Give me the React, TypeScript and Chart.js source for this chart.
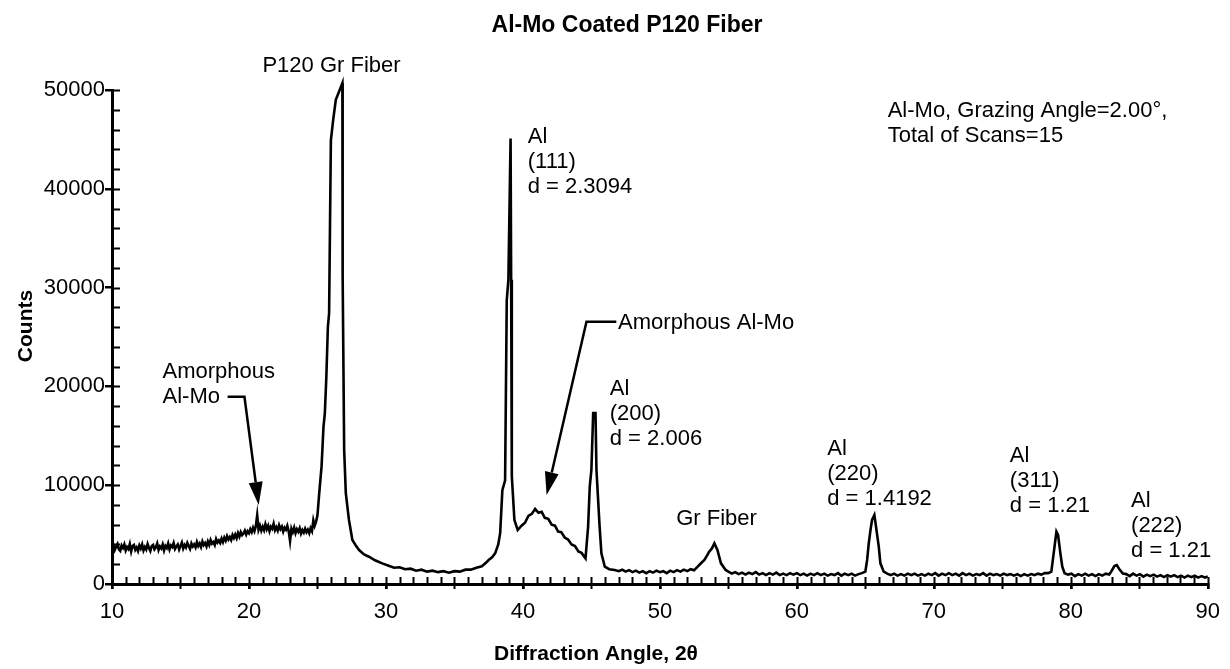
import { useEffect, useRef } from 'react';
import { Chart, registerables } from 'chart.js';

Chart.register(...registerables);

const FONT = '"Liberation Sans", Arial, Helvetica, sans-serif';

// ---------- Data (2θ in degrees, counts) ----------
const lowAngles = [
  10.0, 10.1, 10.2, 10.3, 10.4, 10.5, 10.6, 10.7, 10.8, 10.9,
  11.0, 11.1, 11.2, 11.3, 11.4, 11.5, 11.6, 11.7, 11.8, 11.9,
  12.0, 12.1, 12.2, 12.3, 12.4, 12.5, 12.6, 12.7, 12.8, 12.9,
  13.0, 13.1, 13.2, 13.3, 13.4, 13.5, 13.6, 13.7, 13.8, 13.9,
  14.0, 14.1, 14.2, 14.3, 14.4, 14.5, 14.6, 14.7, 14.8, 14.9,
  15.0, 15.1, 15.2, 15.3, 15.4, 15.5, 15.6, 15.7, 15.8, 15.9,
  16.0, 16.1, 16.2, 16.3, 16.4, 16.5, 16.6, 16.7, 16.8, 16.9,
  17.0, 17.1, 17.2, 17.3, 17.4, 17.5, 17.6, 17.7, 17.8, 17.9,
  18.0, 18.1, 18.2, 18.3, 18.4, 18.5, 18.6, 18.7, 18.8, 18.9,
  19.0, 19.1, 19.2, 19.3, 19.4, 19.5, 19.6, 19.7, 19.8, 19.9,
  20.0, 20.1, 20.2, 20.3, 20.4, 20.5, 20.6, 20.7, 20.8, 20.9,
  21.0, 21.1, 21.2, 21.3, 21.4, 21.5, 21.6, 21.7, 21.8, 21.9,
  22.0, 22.1, 22.2, 22.3, 22.4, 22.5, 22.6, 22.7, 22.8, 22.9,
  23.0, 23.1, 23.2, 23.3, 23.4, 23.5, 23.6, 23.7, 23.8, 23.9,
  24.0, 24.1, 24.2, 24.3, 24.4, 24.5, 24.6, 24.7, 24.8, 24.9,
  25.0,
];
const lowCounts = [
  3700, 3950, 3450, 3800, 4050, 3500, 3350, 3900, 3650, 4000,
  3400, 3750, 3550, 4050, 3300, 3850, 3950, 3450, 3700, 3350,
  3900, 3600, 4000, 3400, 3750, 3500, 4050, 3650, 3350, 3850,
  3950, 3500, 3700, 4100, 3450, 3800, 3600, 4000, 3400, 3850,
  3650, 4100, 3500, 3900, 3750, 4150, 3550, 3800, 4000, 3500,
  3850, 4200, 3600, 3950, 3700, 4150, 3850, 3550, 4100, 3800,
  4000, 3700, 4250, 3850, 4100, 3750, 4300, 3950, 4150, 3800,
  4300, 3950, 4450, 4100, 4250, 3950, 4550, 4200, 4400, 4150,
  4600, 4250, 4700, 4400, 4850, 4500, 4750, 4450, 4950, 4650,
  5000, 4650, 5150, 4800, 5250, 4950, 5100, 5400, 5000, 5350,
  5150, 5550, 5250, 5700, 5350, 5850, 6950, 5500, 5900, 5400,
  5800, 5450, 6050, 5550, 5900, 5350, 5800, 5600, 6100, 5450,
  5750, 5400, 5950, 5550, 5800, 5300, 5700, 5500, 5900, 5350,
  4350, 5600, 5250, 5700, 5150, 5550, 5300, 5650, 5100, 5450,
  5200, 5600, 5250, 5500, 5150, 5650, 5350, 6450, 5900, 6300,
  6950,
];

const p120Angles = [25.13, 25.3, 25.44, 25.54, 25.65, 25.76, 25.85, 25.98, 26.15, 26.34, 26.82, 26.84, 26.95, 27.07, 27.3, 27.55, 27.8, 28.04, 28.4, 28.76, 29.2, 29.73];
const p120Counts = [9200, 11900, 15900, 17300, 21000, 26000, 27400, 44900, 47000, 49000, 50700, 31100, 13560, 9200, 6480, 4450, 3900, 3440, 3000, 2760, 2400, 2090];

const midAngles = [30.2, 30.6, 31.0, 31.4, 31.8, 32.2, 32.6, 33.0, 33.4, 33.8, 34.2, 34.6, 35.0, 35.4, 35.8, 36.2, 36.6, 37.0, 37.3, 37.5, 37.75, 37.98, 38.2];
const midCounts = [1850, 1650, 1700, 1500, 1550, 1350, 1450, 1250, 1350, 1200, 1300, 1150, 1300, 1250, 1450, 1450, 1650, 1800, 2150, 2430, 2700, 3130, 4000];

const alAngles = [38.34, 38.5, 38.7, 38.82, 38.94, 39.1, 39.14, 39.19, 39.38, 39.62, 39.9, 40.15, 40.4, 40.65, 40.89, 41.13, 41.37, 41.6, 41.85, 42.1, 42.34, 42.57, 42.8, 43.05, 43.3, 43.55, 43.8, 44.05, 44.28, 44.57, 44.76, 44.88, 45.0, 45.13, 45.3, 45.37, 45.6, 45.73, 45.98, 46.3, 46.7];
const alCounts = [5150, 9500, 10500, 28700, 30800, 45100, 30800, 10900, 6480, 5460, 5900, 6200, 6900, 7100, 7600, 7200, 7300, 6700, 6600, 6000, 5900, 5300, 5250, 4700, 4500, 4000, 3850, 3300, 3150, 2600, 5800, 9850, 11540, 17300, 17300, 11540, 5800, 3100, 1750, 1500, 1420];

const grAngles = [47.0, 47.25, 47.5, 47.75, 48.0, 48.25, 48.5, 48.75, 49.0, 49.25, 49.5, 49.75, 50.0, 50.25, 50.5, 50.75, 51.0, 51.25, 51.5, 51.75, 52.0, 52.25, 52.5, 52.76, 53.0, 53.25, 53.45, 53.6, 53.8, 53.98, 54.2, 54.46, 54.8];
const grCounts = [1300, 1450, 1250, 1400, 1200, 1350, 1150, 1300, 1100, 1300, 1150, 1350, 1200, 1300, 1100, 1350, 1200, 1400, 1250, 1450, 1300, 1500, 1400, 1750, 2100, 2430, 2900, 3270, 3600, 4120, 3440, 2090, 1420];

const highAngles1 = [55.0, 55.25, 55.5, 55.75, 56.0, 56.25, 56.5, 56.75, 57.0, 57.25, 57.5, 57.75, 58.0, 58.25, 58.5, 58.75, 59.0, 59.25, 59.5, 59.75, 60.0, 60.25, 60.5, 60.75, 61.0, 61.25, 61.5, 61.75, 62.0, 62.25, 62.5, 62.75, 63.0, 63.25, 63.5, 63.75, 64.0, 64.25, 64.5, 64.75];
const highCounts1 = [1250, 1050, 1200, 1000, 1150, 950, 1150, 1000, 1200, 950, 1100, 900, 1100, 950, 1150, 900, 1050, 900, 1100, 950, 1100, 900, 1050, 850, 1050, 900, 1100, 900, 1050, 850, 1000, 900, 1100, 850, 1050, 900, 1050, 850, 1000, 1100];

const al220Angles = [65.0, 65.13, 65.25, 65.38, 65.49, 65.66, 65.78, 65.88, 65.98, 66.1, 66.34];
const al220Counts = [1250, 2430, 4120, 5500, 6480, 6980, 5800, 4800, 3780, 2090, 1250];

const highAngles2 = [66.6, 66.85, 67.1, 67.35, 67.6, 67.85, 68.1, 68.35, 68.6, 68.85, 69.1, 69.35, 69.6, 69.85, 70.1, 70.35, 70.6, 70.85, 71.1, 71.35, 71.6, 71.85, 72.1, 72.35, 72.6, 72.85, 73.1, 73.35, 73.6, 73.85, 74.1, 74.35, 74.6, 74.85, 75.1, 75.35, 75.6, 75.85, 76.1, 76.35, 76.6, 76.85, 77.1, 77.35, 77.6, 77.85, 78.1, 78.35];
const highCounts2 = [1050, 900, 1050, 850, 1000, 850, 1050, 900, 1050, 850, 1000, 850, 1050, 900, 1100, 850, 1050, 900, 1100, 900, 1050, 850, 1100, 900, 1050, 850, 1000, 900, 1100, 850, 1050, 900, 1000, 850, 1050, 900, 1000, 850, 1000, 800, 1000, 850, 1000, 900, 1050, 950, 1100, 1100];

const al311Angles = [78.58, 78.75, 78.95, 79.07, 79.24, 79.38, 79.55];
const al311Counts = [1250, 3100, 5290, 4960, 3100, 1750, 1080];

const highAngles3 = [79.8, 80.05, 80.3, 80.55, 80.8, 81.05, 81.3, 81.55, 81.8, 82.05, 82.3, 82.55, 82.8];
const highCounts3 = [950, 1050, 800, 1000, 850, 1050, 850, 1000, 800, 1000, 850, 1050, 950];

const al222Angles = [82.95, 83.18, 83.36, 83.55, 83.8];
const al222Counts = [1250, 1820, 1920, 1480, 1050];

const tailAngles = [84.05, 84.3, 84.55, 84.8, 85.05, 85.3, 85.55, 85.8, 86.05, 86.3, 86.55, 86.8, 87.05, 87.3, 87.55, 87.8, 88.05, 88.3, 88.55, 88.8, 89.05, 89.3, 89.55, 89.8, 90.0];
const tailCounts = [1000, 800, 1050, 850, 1000, 750, 950, 800, 950, 750, 900, 700, 900, 750, 900, 700, 850, 650, 850, 700, 850, 650, 800, 650, 750];

// ---------- Text ----------
const chartTitle = 'Al-Mo Coated P120 Fiber';
const xAxisTitle = 'Diffraction Angle, 2θ';
const yAxisTitle = 'Counts';
const xTickStep = 10;
const yTickStep = 10000;

const peakLabels = [
  { angle: 20.98, counts: 51810, lines: ['P120 Gr Fiber'] },
  { angle: 40.35, counts: 44630, lines: ['Al', '(111)', 'd = 2.3094'] },
  { angle: 46.95, counts: 25760, lines: ['Amorphous Al-Mo'] },
  { angle: 46.34, counts: 19130, lines: ['Al', '(200)', 'd = 2.006'] },
  { angle: 51.19, counts: 5970, lines: ['Gr Fiber'] },
  { angle: 13.69, counts: 20850, lines: ['Amorphous', 'Al-Mo'] },
  { angle: 62.22, counts: 13050, lines: ['Al', '(220)', 'd = 1.4192'] },
  { angle: 75.55, counts: 12350, lines: ['Al', '(311)', 'd = 1.21'] },
  { angle: 84.4, counts: 7820, lines: ['Al', '(222)', 'd = 1.21'] },
  { angle: 66.63, counts: 47260, lines: ['Al-Mo, Grazing Angle=2.00°,', 'Total of Scans=15'] },
];

const arrowPaths = [
  [[18.44, 18950], [19.67, 18950], [20.71, 7990]],
  [[46.82, 26540], [44.64, 26540], [41.73, 9010]],
];

const allAngles = [
  ...lowAngles, ...p120Angles, ...midAngles, ...alAngles, ...grAngles, ...highAngles1,
  ...al220Angles, ...highAngles2, ...al311Angles, ...highAngles3, ...al222Angles, ...tailAngles,
];
const allCounts = [
  ...lowCounts, ...p120Counts, ...midCounts, ...alCounts, ...grCounts, ...highCounts1,
  ...al220Counts, ...highCounts2, ...al311Counts, ...highCounts3, ...al222Counts, ...tailCounts,
];

const decorPlugin = {
  id: 'xrdDecor',
  afterDraw(chart: any) {
    const { ctx, chartArea } = chart;
    const xs = chart.scales.x;
    const ys = chart.scales.y;
    const { left, bottom } = chartArea;
    ctx.save();
    ctx.strokeStyle = '#000';
    ctx.fillStyle = '#000';

    // minor ticks on y (inward)
    ctx.lineWidth = 2;
    for (let v = ys.min; v <= ys.max; v += 2000) {
      const py = Math.round(ys.getPixelForValue(v)) + 0.5;
      ctx.beginPath();
      ctx.moveTo(left, py);
      ctx.lineTo(left + 8, py);
      ctx.stroke();
    }
    // minor ticks on x (inward), half-decade marks also outward
    for (let v = xs.min; v <= xs.max; v += 1) {
      const px = Math.round(xs.getPixelForValue(v)) + 0.5;
      ctx.beginPath();
      ctx.moveTo(px, bottom);
      ctx.lineTo(px, bottom - 7);
      if (v % 5 === 0) {
        ctx.moveTo(px, bottom);
        ctx.lineTo(px, bottom + 5);
      }
      ctx.stroke();
    }

    // arrows
    ctx.lineWidth = 2.5;
    for (const path of arrowPaths) {
      const pts = path.map(([a, c]) => [xs.getPixelForValue(a), ys.getPixelForValue(c)]);
      const [tx, ty] = pts[pts.length - 1];
      const [sx, sy] = pts[pts.length - 2];
      const dx = tx - sx, dy = ty - sy;
      const len = Math.hypot(dx, dy);
      const ux = dx / len, uy = dy / len;
      const headLen = 23, headHalf = 7;
      const bx = tx - ux * headLen, by = ty - uy * headLen;
      ctx.beginPath();
      ctx.moveTo(pts[0][0], pts[0][1]);
      for (let i = 1; i < pts.length - 1; i++) ctx.lineTo(pts[i][0], pts[i][1]);
      ctx.lineTo(bx, by);
      ctx.stroke();
      ctx.beginPath();
      ctx.moveTo(tx, ty);
      ctx.lineTo(bx - uy * headHalf, by + ux * headHalf);
      ctx.lineTo(bx + uy * headHalf, by - ux * headHalf);
      ctx.closePath();
      ctx.fill();
    }

    // peak annotations
    ctx.font = `22px ${FONT}`;
    ctx.textAlign = 'left';
    ctx.textBaseline = 'alphabetic';
    for (const lab of peakLabels) {
      const x = xs.getPixelForValue(lab.angle);
      const y = ys.getPixelForValue(lab.counts);
      lab.lines.forEach((t, i) => ctx.fillText(t, x, y + i * 25));
    }

    // chart title
    ctx.font = `bold 23px ${FONT}`;
    ctx.textAlign = 'center';
    ctx.fillText(chartTitle, 627, 32);

    // axis titles
    ctx.font = `bold 21px ${FONT}`;
    ctx.fillText(xAxisTitle, 596, 660);
    ctx.translate(32, 326);
    ctx.rotate(-Math.PI / 2);
    ctx.fillText(yAxisTitle, 0, 0);
    ctx.restore();
  },
};

export default function App() {
  const ref = useRef<HTMLCanvasElement>(null);
  useEffect(() => {
    if (!ref.current) return;
    Chart.defaults.font.family = FONT;
    const chart = new Chart(ref.current, {
      type: 'line',
      data: {
        datasets: [
          {
            data: allAngles.map((a, i) => ({ x: a, y: allCounts[i] })),
            borderColor: '#000',
            borderWidth: 2.6,
            pointRadius: 0,
            tension: 0,
            fill: false,
            clip: false as any,
          },
        ],
      },
      options: {
        animation: false,
        responsive: false,
        devicePixelRatio: 1,
        layout: { padding: { top: 90, right: 18, bottom: 0, left: 0 } },
        plugins: {
          legend: { display: false },
          title: { display: false },
          tooltip: { enabled: false },
        },
        scales: {
          x: {
            type: 'linear',
            min: 10,
            max: 90,
            afterFit: (s: any) => {
              s.height = 85;
            },
            ticks: {
              stepSize: xTickStep,
              color: '#000',
              font: { size: 22, family: FONT },
              padding: 10,
              maxRotation: 0,
              callback: (v: any) => String(v),
            },
            grid: {
              display: true,
              drawOnChartArea: false,
              drawTicks: true,
              tickLength: 5,
              color: '#000',
              lineWidth: 2.5,
            },
            border: { display: true, color: '#000', width: 3 },
          },
          y: {
            type: 'linear',
            min: 0,
            max: 50000,
            afterFit: (s: any) => {
              s.width = 112;
            },
            ticks: {
              stepSize: yTickStep,
              color: '#000',
              font: { size: 22, family: FONT },
              padding: 0,
              callback: (v: any) => String(v),
            },
            grid: {
              display: true,
              drawOnChartArea: false,
              drawTicks: true,
              tickLength: 7,
              color: '#000',
              lineWidth: 2.5,
            },
            border: { display: true, color: '#000', width: 3 },
          },
        },
      },
      plugins: [decorPlugin],
    });
    return () => chart.destroy();
  }, []);
  return (
    <div style={{ position: 'fixed', left: 0, top: 0, width: 1230, height: 669, background: '#fff' }}>
      <canvas ref={ref} width={1230} height={669} style={{ display: 'block', width: 1230, height: 669 }} />
    </div>
  );
}
